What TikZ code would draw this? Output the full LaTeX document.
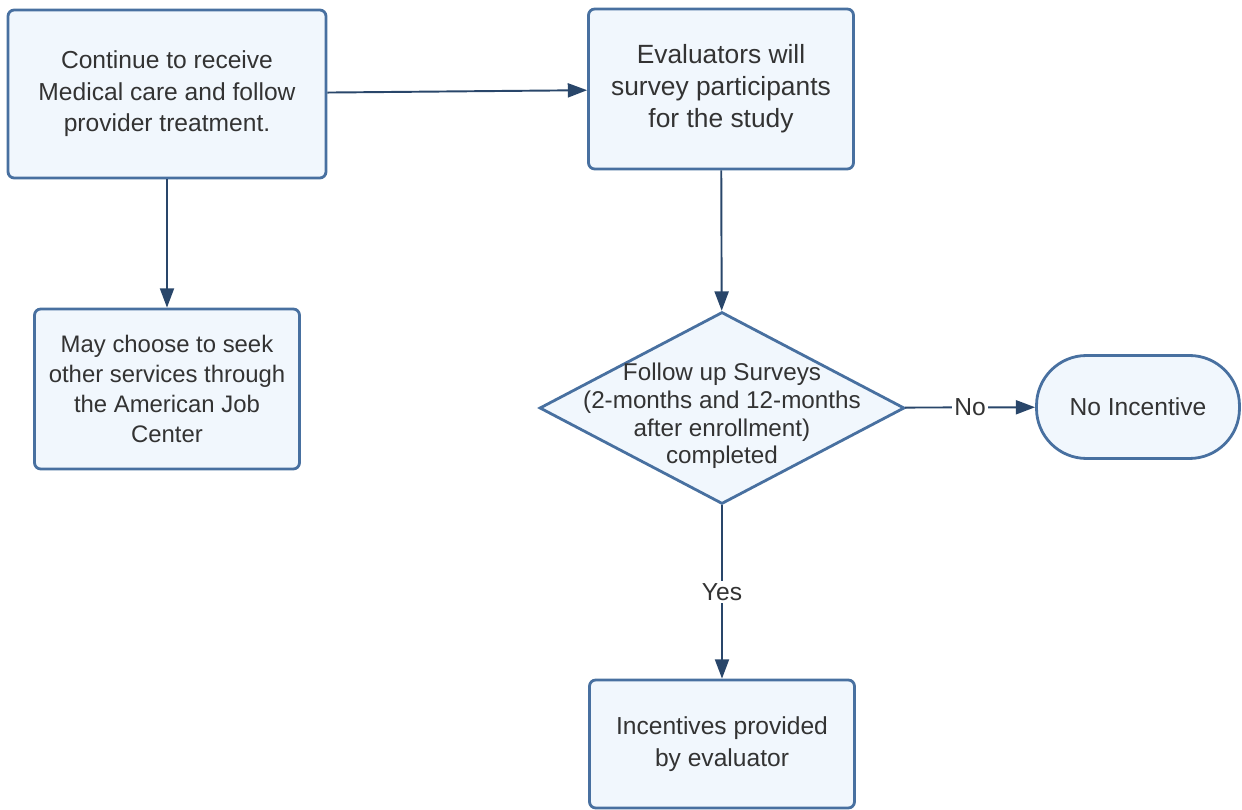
\documentclass[tikz,border=0pt]{standalone}
\usepackage{fontspec}
\setmainfont{Liberation Sans}
\usetikzlibrary{shapes.geometric,arrows.meta}
\definecolor{boxline}{RGB}{72,112,160}
\definecolor{boxfill}{RGB}{241,247,253}
\definecolor{arrowcol}{RGB}{41,70,106}
\definecolor{txtcol}{RGB}{51,51,51}
\begin{document}
\begin{tikzpicture}
    [x=0.02cm,y=-0.02cm,
     box/.style={rectangle,rounded corners=3.5pt,draw=boxline,fill=boxfill,line width=1.6pt,text=txtcol,align=center,inner sep=0pt,font=\fontsize{14}{17.9}\selectfont},
     decision/.style={diamond,draw=boxline,fill=boxfill,line width=1.6pt,inner sep=0pt,minimum width=7.3cm,minimum height=3.84cm},
     terminal/.style={box,rounded corners=1cm},
     line/.style={draw=arrowcol,line width=1.1pt,-{Triangle[length=11pt,width=8pt]}},
     lbl/.style={fill=white,text=txtcol,inner sep=1.5pt,font=\fontsize{14}{16}\selectfont}]
    \useasboundingbox (0,0) rectangle (1242,810);
    \node[box,minimum width=6.36cm,minimum height=3.36cm] (cont) at (167,94)
        {Continue to receive\\Medical care and follow\\provider treatment.};
    \node[box,minimum width=5.3cm,minimum height=3.2cm,font=\fontsize{15}{18.2}\selectfont] (eval) at (721,89)
        {Evaluators will\\survey participants\\for the study};
    \node[box,minimum width=5.3cm,minimum height=3.2cm,font=\fontsize{13.6}{17}\selectfont] (seek) at (167,389)
        {May choose to seek\\other services through\\the American Job\\Center};
    \node[decision] (dec) at (722,408) {};
    \node[text=txtcol,align=center,inner sep=0pt,font=\fontsize{13.8}{15.7}\selectfont] (dectext) at (722,416)
        {Follow up Surveys\\(2-months and 12-months\\after enrollment)\\completed};
    \node[terminal,minimum width=4.06cm,minimum height=2.06cm] (noinc) at (1138,407) {No Incentive};
    \node[box,minimum width=5.3cm,minimum height=2.56cm] (inc) at (722,744)
        {Incentives provided\\by evaluator};
    \draw[line] (cont) -- (eval);
    \draw[line] (cont) -- (seek);
    \draw[line] (eval) -- (dec);
    \draw[line] (dec) -- node[lbl] {No} (noinc);
    \draw[line] (dec) -- node[lbl] {Yes} (inc);
\end{tikzpicture}
\end{document}
